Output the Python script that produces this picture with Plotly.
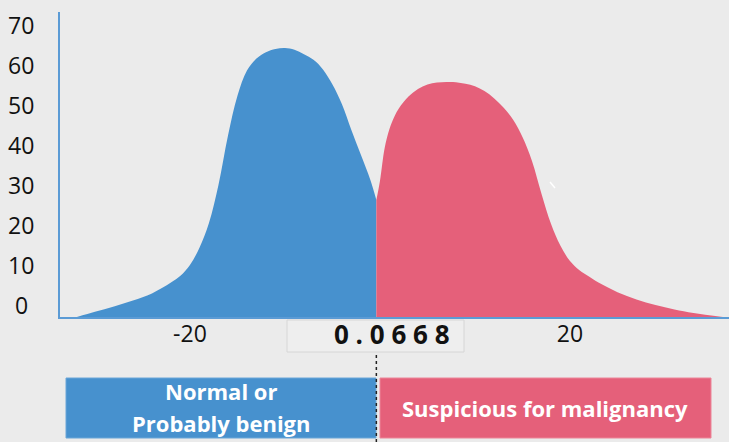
import plotly.graph_objects as go

# ---- data ----
benign_x = [-31.9, -30, -28, -26, -24, -22, -21, -20, -19, -18, -17, -16, -15, -14, -13, -12,
            -11, -10, -9, -8, -7, -6, -5, -4, -3, -2, -1, -0.38]
benign_y = [0.0, 1.3, 2.6, 4.1, 5.9, 8.6, 10.3, 13.0, 17.3, 23.5, 33.0, 45.3, 55.3, 61.6, 64.6, 66.2,
            67.0, 67.25, 66.8, 65.7, 64.3, 61.9, 58.1, 53.2, 46.7, 40.5, 34.2, 29.25]

malig_x = [-0.38, 0, 0.5, 1, 1.5, 2, 3, 4, 5, 6, 7, 8, 9, 10, 11, 12, 13, 14, 15, 16, 17,
           18, 19, 20, 21, 22, 23, 25, 27, 29, 31, 33, 36.1]
malig_y = [29.25, 34.0, 42.3, 47.0, 50.0, 52.2, 55.1, 57.0, 58.1, 58.6, 58.75, 58.7, 58.3, 57.7,
           56.5, 54.7, 52.4, 49.4, 45.0, 39.0, 30.8, 23.3, 17.8, 14.0, 11.7, 10.1, 8.6, 6.2, 4.4,
           3.0, 1.9, 1.0, 0.0]

threshold_x = -0.38
threshold_label = "0.0668"
y_ticks = [0, 10, 20, 30, 40, 50, 60, 70]
x_ticks = [-20, 20]
x_tick_text = ["-20", "20"]
band_labels = ["Normal or", "Probably benign", "Suspicious for malignancy"]

BLUE = "rgb(71,145,206)"
PINK = "rgb(229,96,122)"
BG = "#ebebeb"
AXIS = "#5b9bd5"

W, H = 729, 442
L, R, T, B = 60, 0, 12, 125
PW, PH = W - L - R, H - T - B
X_RANGE = [-33.68, 36.74]
Y_RANGE = [0, 76.25]


def px_x(p):  # pixel x -> paper x
    return (p - L) / PW


def px_y(p):  # pixel y -> paper y
    return (H - B - p) / PH


fig = go.Figure()
fig.add_trace(go.Scatter(x=benign_x, y=benign_y, mode="lines", fill="tozeroy",
                         line=dict(color=BLUE, width=0, shape="spline", smoothing=1.0),
                         fillcolor=BLUE, hoverinfo="skip", showlegend=False))
fig.add_trace(go.Scatter(x=malig_x, y=malig_y, mode="lines", fill="tozeroy",
                         line=dict(color=PINK, width=0, shape="spline", smoothing=1.0),
                         fillcolor=PINK, hoverinfo="skip", showlegend=False))

shapes = []
# threshold label box
shapes.append(dict(type="rect", xref="paper", yref="paper",
                   x0=px_x(287), x1=px_x(464), y0=px_y(352), y1=px_y(320),
                   fillcolor="#eeeeee", line=dict(color="#d6d6d6", width=1), layer="above"))
# dotted threshold line below box
shapes.append(dict(type="line", xref="x", yref="paper",
                   x0=threshold_x, x1=threshold_x, y0=px_y(442), y1=px_y(352),
                   line=dict(color="#222222", width=1.5, dash="dot"), layer="above"))
# bottom bands
shapes.append(dict(type="rect", xref="paper", yref="paper",
                   x0=px_x(66), x1=px_x(376), y0=px_y(438), y1=px_y(378),
                   fillcolor=BLUE, line=dict(color="#6aa6d8", width=1), layer="below"))
shapes.append(dict(type="rect", xref="paper", yref="paper",
                   x0=px_x(380), x1=px_x(711), y0=px_y(438), y1=px_y(378),
                   fillcolor=PINK, line=dict(color="#ec8598", width=1), layer="below"))
# small stray mark
shapes.append(dict(type="line", xref="paper", yref="paper",
                   x0=px_x(550), x1=px_x(555), y0=px_y(182), y1=px_y(188),
                   line=dict(color="white", width=1.5), layer="above"))

annotations = []
for v in y_ticks:
    annotations.append(dict(x=px_x(21), xref="paper", y=v, yref="y", yshift=12,
                            text=str(v), showarrow=False, xanchor="center", yanchor="middle",
                            font=dict(family="Open Sans", size=23, color="#111111")))
annotations.append(dict(x=px_x(392), xref="paper", y=px_y(334), yref="paper",
                        text=" ".join(threshold_label), showarrow=False,
                        xanchor="center", yanchor="middle",
                        font=dict(family="Open Sans", size=26, color="#111111", weight="bold")))
annotations.append(dict(x=px_x(221), xref="paper", y=px_y(391), yref="paper",
                        text="<b>%s</b>" % band_labels[0], showarrow=False,
                        xanchor="center", yanchor="middle",
                        font=dict(family="Open Sans", size=22, color="white")))
annotations.append(dict(x=px_x(221), xref="paper", y=px_y(423), yref="paper",
                        text="<b>%s</b>" % band_labels[1], showarrow=False,
                        xanchor="center", yanchor="middle",
                        font=dict(family="Open Sans", size=22, color="white")))
annotations.append(dict(x=px_x(545), xref="paper", y=px_y(408), yref="paper",
                        text="<b>%s</b>" % band_labels[2], showarrow=False,
                        xanchor="center", yanchor="middle",
                        font=dict(family="Open Sans", size=22, color="white")))

fig.update_layout(
    width=W, height=H,
    margin=dict(l=L, r=R, t=T, b=B),
    paper_bgcolor=BG, plot_bgcolor=BG,
    shapes=shapes, annotations=annotations,
    xaxis=dict(range=X_RANGE, showgrid=False, zeroline=False, showline=True,
               linecolor=AXIS, linewidth=2, tickvals=x_ticks, ticktext=x_tick_text,
               ticks="", tickfont=dict(family="Open Sans", size=23, color="#111111"),
               ticklabelstandoff=-5, fixedrange=True),
    yaxis=dict(range=Y_RANGE, showgrid=False, zeroline=False, showline=True,
               linecolor=AXIS, linewidth=2, showticklabels=False, ticks="",
               fixedrange=True),
)

fig.write_html("out.html", config={"displayModeBar": False},
               post_script="document.body.style.margin='0';")
